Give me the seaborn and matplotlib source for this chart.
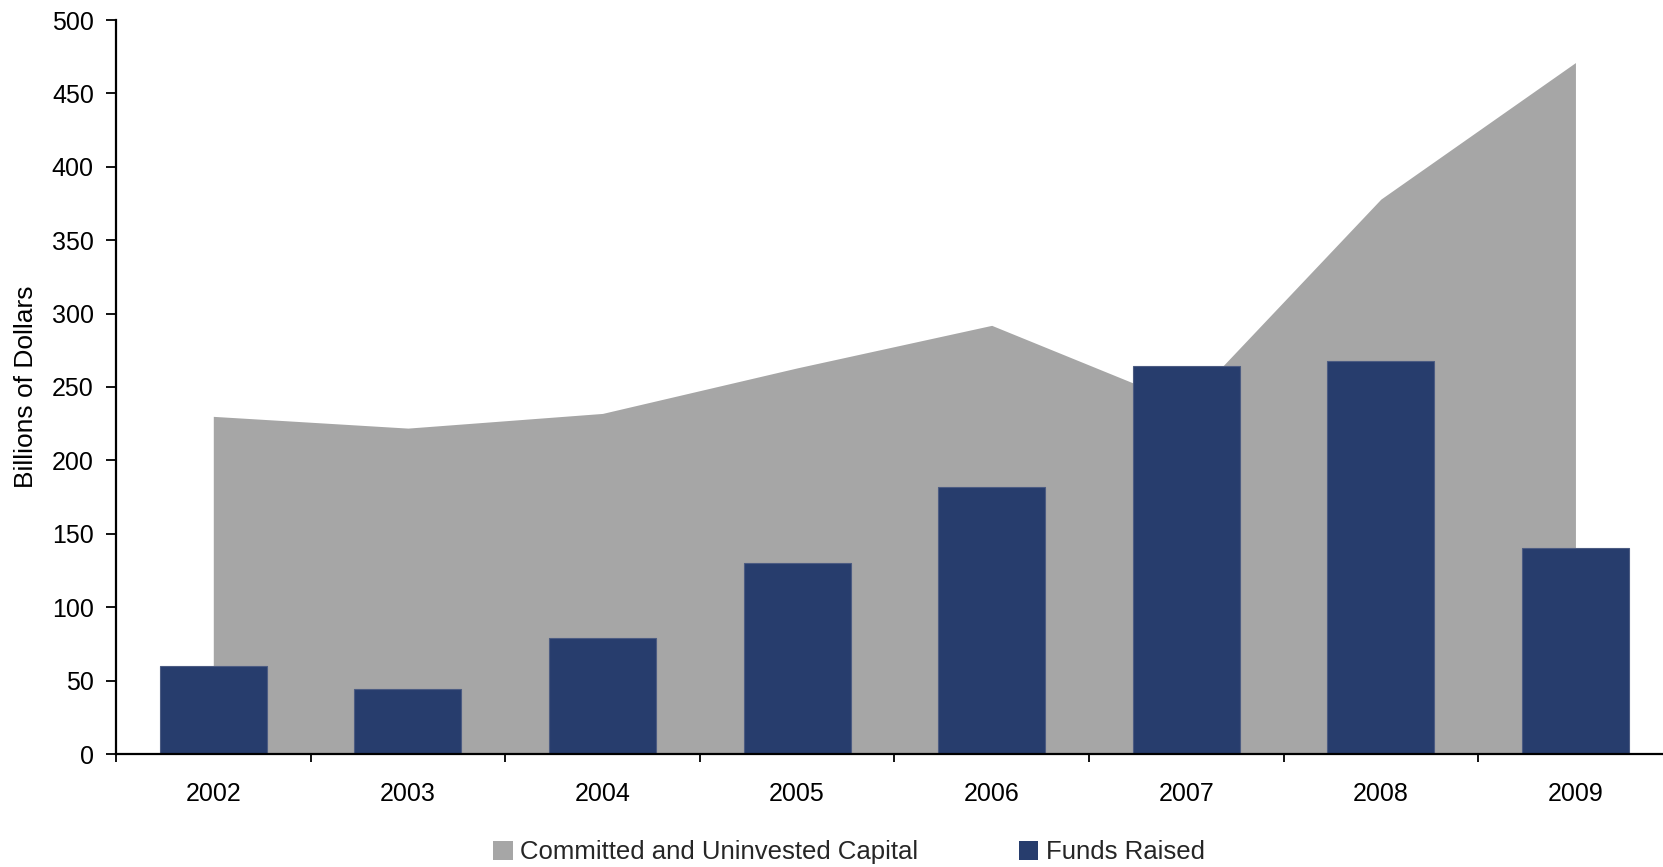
import matplotlib
matplotlib.use("Agg")
import matplotlib.pyplot as plt
from matplotlib.patches import Patch
from matplotlib.ticker import FixedLocator
import seaborn as sns
import pandas as pd
import numpy as np

# Data (billions of dollars)
years = ["2002", "2003", "2004", "2005", "2006", "2007", "2008", "2009"]
committed_uninvested = [230, 222, 232, 263, 292, 238, 378, 471]
funds_raised = [60, 44, 79, 130, 182, 264, 268, 140]

AREA_COLOR = "#A6A6A6"
BAR_COLOR = "#273D6D"

sns.set_theme(style="white")
plt.rcParams["font.family"] = ["Liberation Sans", "DejaVu Sans"]

fig = plt.figure(figsize=(16.63, 8.67), dpi=100)
ax = fig.add_axes([116 / 1663, 1 - 754 / 867, 1 - 116 / 1663, (754 - 20) / 867])

df = pd.DataFrame({"year": years, "raised": funds_raised})
x = np.arange(len(years))

# Committed and uninvested capital as a filled area behind the bars
ax.fill_between(x, 0, committed_uninvested, color=AREA_COLOR, linewidth=0, zorder=1)

sns.barplot(data=df, x="year", y="raised", color=BAR_COLOR, saturation=1,
            width=0.55, edgecolor="#4C5C82", linewidth=0.8, ax=ax, zorder=2)

ax.set_ylim(0, 500)
ax.set_xlim(-0.5, 7.45)
ax.set_yticks(range(0, 501, 50))
ax.set_xlabel("")
ax.set_ylabel("Billions of Dollars", fontsize=19, color="black", labelpad=10)

for side in ["top", "right"]:
    ax.spines[side].set_visible(False)
for side in ["left", "bottom"]:
    ax.spines[side].set_color("black")
    ax.spines[side].set_linewidth(1.6)

ax.tick_params(axis="y", which="major", direction="out", length=7, width=1.3,
               color="black", labelsize=18, labelcolor="black", pad=9, left=True)
ax.tick_params(axis="x", which="major", length=0, labelsize=18, labelcolor="black", pad=20)
ax.xaxis.set_minor_locator(FixedLocator(np.arange(-0.5, 7.5, 1.0)))
ax.tick_params(axis="x", which="minor", direction="out", length=6, width=1.3,
               color="black", bottom=True)

handles = [Patch(facecolor=AREA_COLOR, edgecolor="none", label="Committed and Uninvested Capital"),
           Patch(facecolor=BAR_COLOR, edgecolor="none", label="Funds Raised")]
fig.legend(handles=handles, loc="center", bbox_to_anchor=(0.5106, 0.017), ncol=2,
           frameon=False, fontsize=18.5, handlelength=0.75, handleheight=0.75,
           handletextpad=0.3, columnspacing=3.9)

fig.savefig("out.png", dpi=100, facecolor="white")
